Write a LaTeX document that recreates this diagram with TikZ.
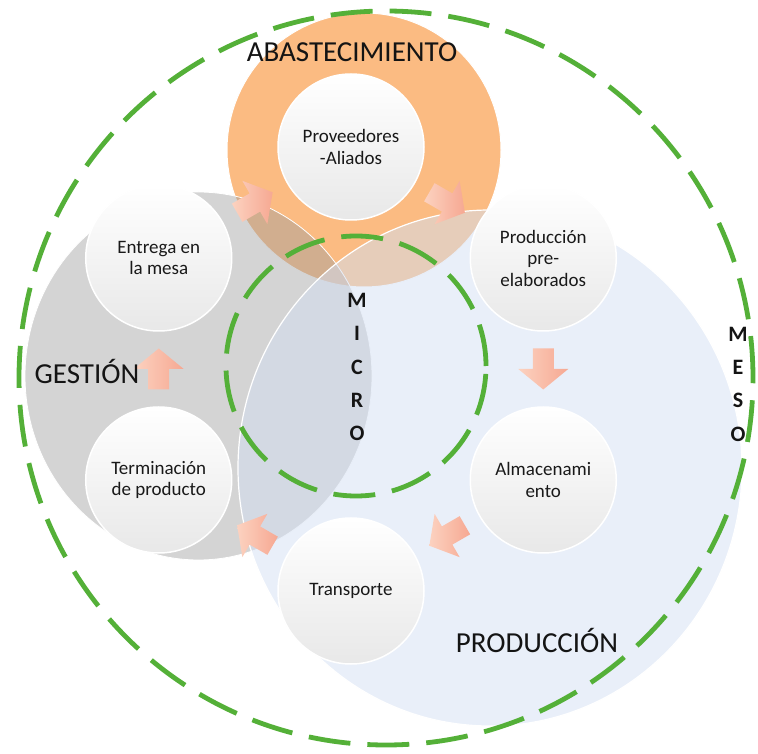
\documentclass[tikz,border=0pt]{standalone}
\usepackage{fontspec}
\setmainfont{Carlito}
\usetikzlibrary{calc}

\definecolor{ringgreen}{RGB}{84,176,56}
\definecolor{supplyfill}{RGB}{251,187,130}
\definecolor{mgmtfill}{RGB}{160,160,160}
\definecolor{prodfill}{RGB}{211,223,243}
\definecolor{arrowlight}{RGB}{252,210,192}
\definecolor{arrowdark}{RGB}{246,168,146}
\definecolor{labeltext}{RGB}{20,20,20}

\begin{document}
\begin{tikzpicture}[x=1pt,y=1pt,
  stage/.style={circle, minimum size=146pt, inner sep=0pt, align=center,
    top color=white, middle color=white, bottom color=black!9,
    draw=white, line width=1.5pt, text=black!90,
    font=\fontsize{19}{21.5}\selectfont},
  area/.style={font=\fontsize{29}{31}\selectfont, text=labeltext, inner sep=0pt},
  levelword/.style={font=\bfseries\fontsize{22}{33.3}\selectfont, align=center,
    inner sep=0pt, text=labeltext},
  ring/.style={draw=ringgreen, line width=4.8pt, dash pattern=on 42pt off 17pt},
  cyclearrow/.pic={
    \shade[left color=arrowlight, right color=arrowdark]
      (-20.5,-10.5) -- (0,-10.5) -- (0,-25) -- (20.5,0) -- (0,25)
      -- (0,10.5) -- (-20.5,10.5) -- cycle;}
]
\useasboundingbox (0,0) rectangle (758,753);

% the three overlapping domains
\filldraw[fill=supplyfill, draw=white, line width=1pt]
  (364,603) circle[radius=137pt];
\filldraw[fill=mgmtfill, fill opacity=0.45, draw=white, line width=0.8pt]
  (198.5,377) ellipse[x radius=173.5pt, y radius=184pt];
\filldraw[fill=prodfill, fill opacity=0.5, draw=white, line width=1.2pt]
  (490,285) ellipse[x radius=252pt, y radius=258pt];

% meso and micro levels
\draw[ring] (386,375) circle[radius=367pt];
\draw[ring] (356,387) circle[radius=130pt];

% the six stages of the cycle
\coordinate (hub) at (351,384);
\node[stage] (prov) at ($(hub)+(90:222)$)  {Proveedores\\-Aliados};
\node[stage] (prod) at ($(hub)+(30:222)$)  {Producción\\pre-\\elaborados};
\node[stage] (alm)  at ($(hub)+(-30:222)$) {Almacenami\\ento};
\node[stage] (trans) at ($(hub)+(-90:222)$) {Transporte};
\node[stage] (term) at ($(hub)+(-150:222)$) {Terminación\\de producto};
\node[stage] (entr) at ($(hub)+(150:222)$) {Entrega en\\la mesa};

% block arrows between consecutive stages
\pic[rotate=-30]  at ($(prov)!0.5!(prod)$)  {cyclearrow};
\pic[rotate=-90]  at ($(prod)!0.5!(alm)$)   {cyclearrow};
\pic[rotate=-150] at ($(alm)!0.5!(trans)$)  {cyclearrow};
\pic[rotate=150]  at ($(trans)!0.5!(term)$) {cyclearrow};
\pic[rotate=90]   at ($(term)!0.5!(entr)$)  {cyclearrow};
\pic[rotate=30]   at ($(entr)!0.5!(prov)$)  {cyclearrow};

% domain names
\node[area] (abast) at (352,701) {ABASTECIMIENTO};
\node[area] (gest)  at (87,382)  {GESTIÓN};
\node[area] (produ) at (537,113) {PRODUCCIÓN};

% level names
\node[levelword] (micro) at (357,386) {M\\I\\C\\R\\O};
\node[levelword] (meso)  at (738,369) {M\\E\\S\\O};
\end{tikzpicture}
\end{document}
